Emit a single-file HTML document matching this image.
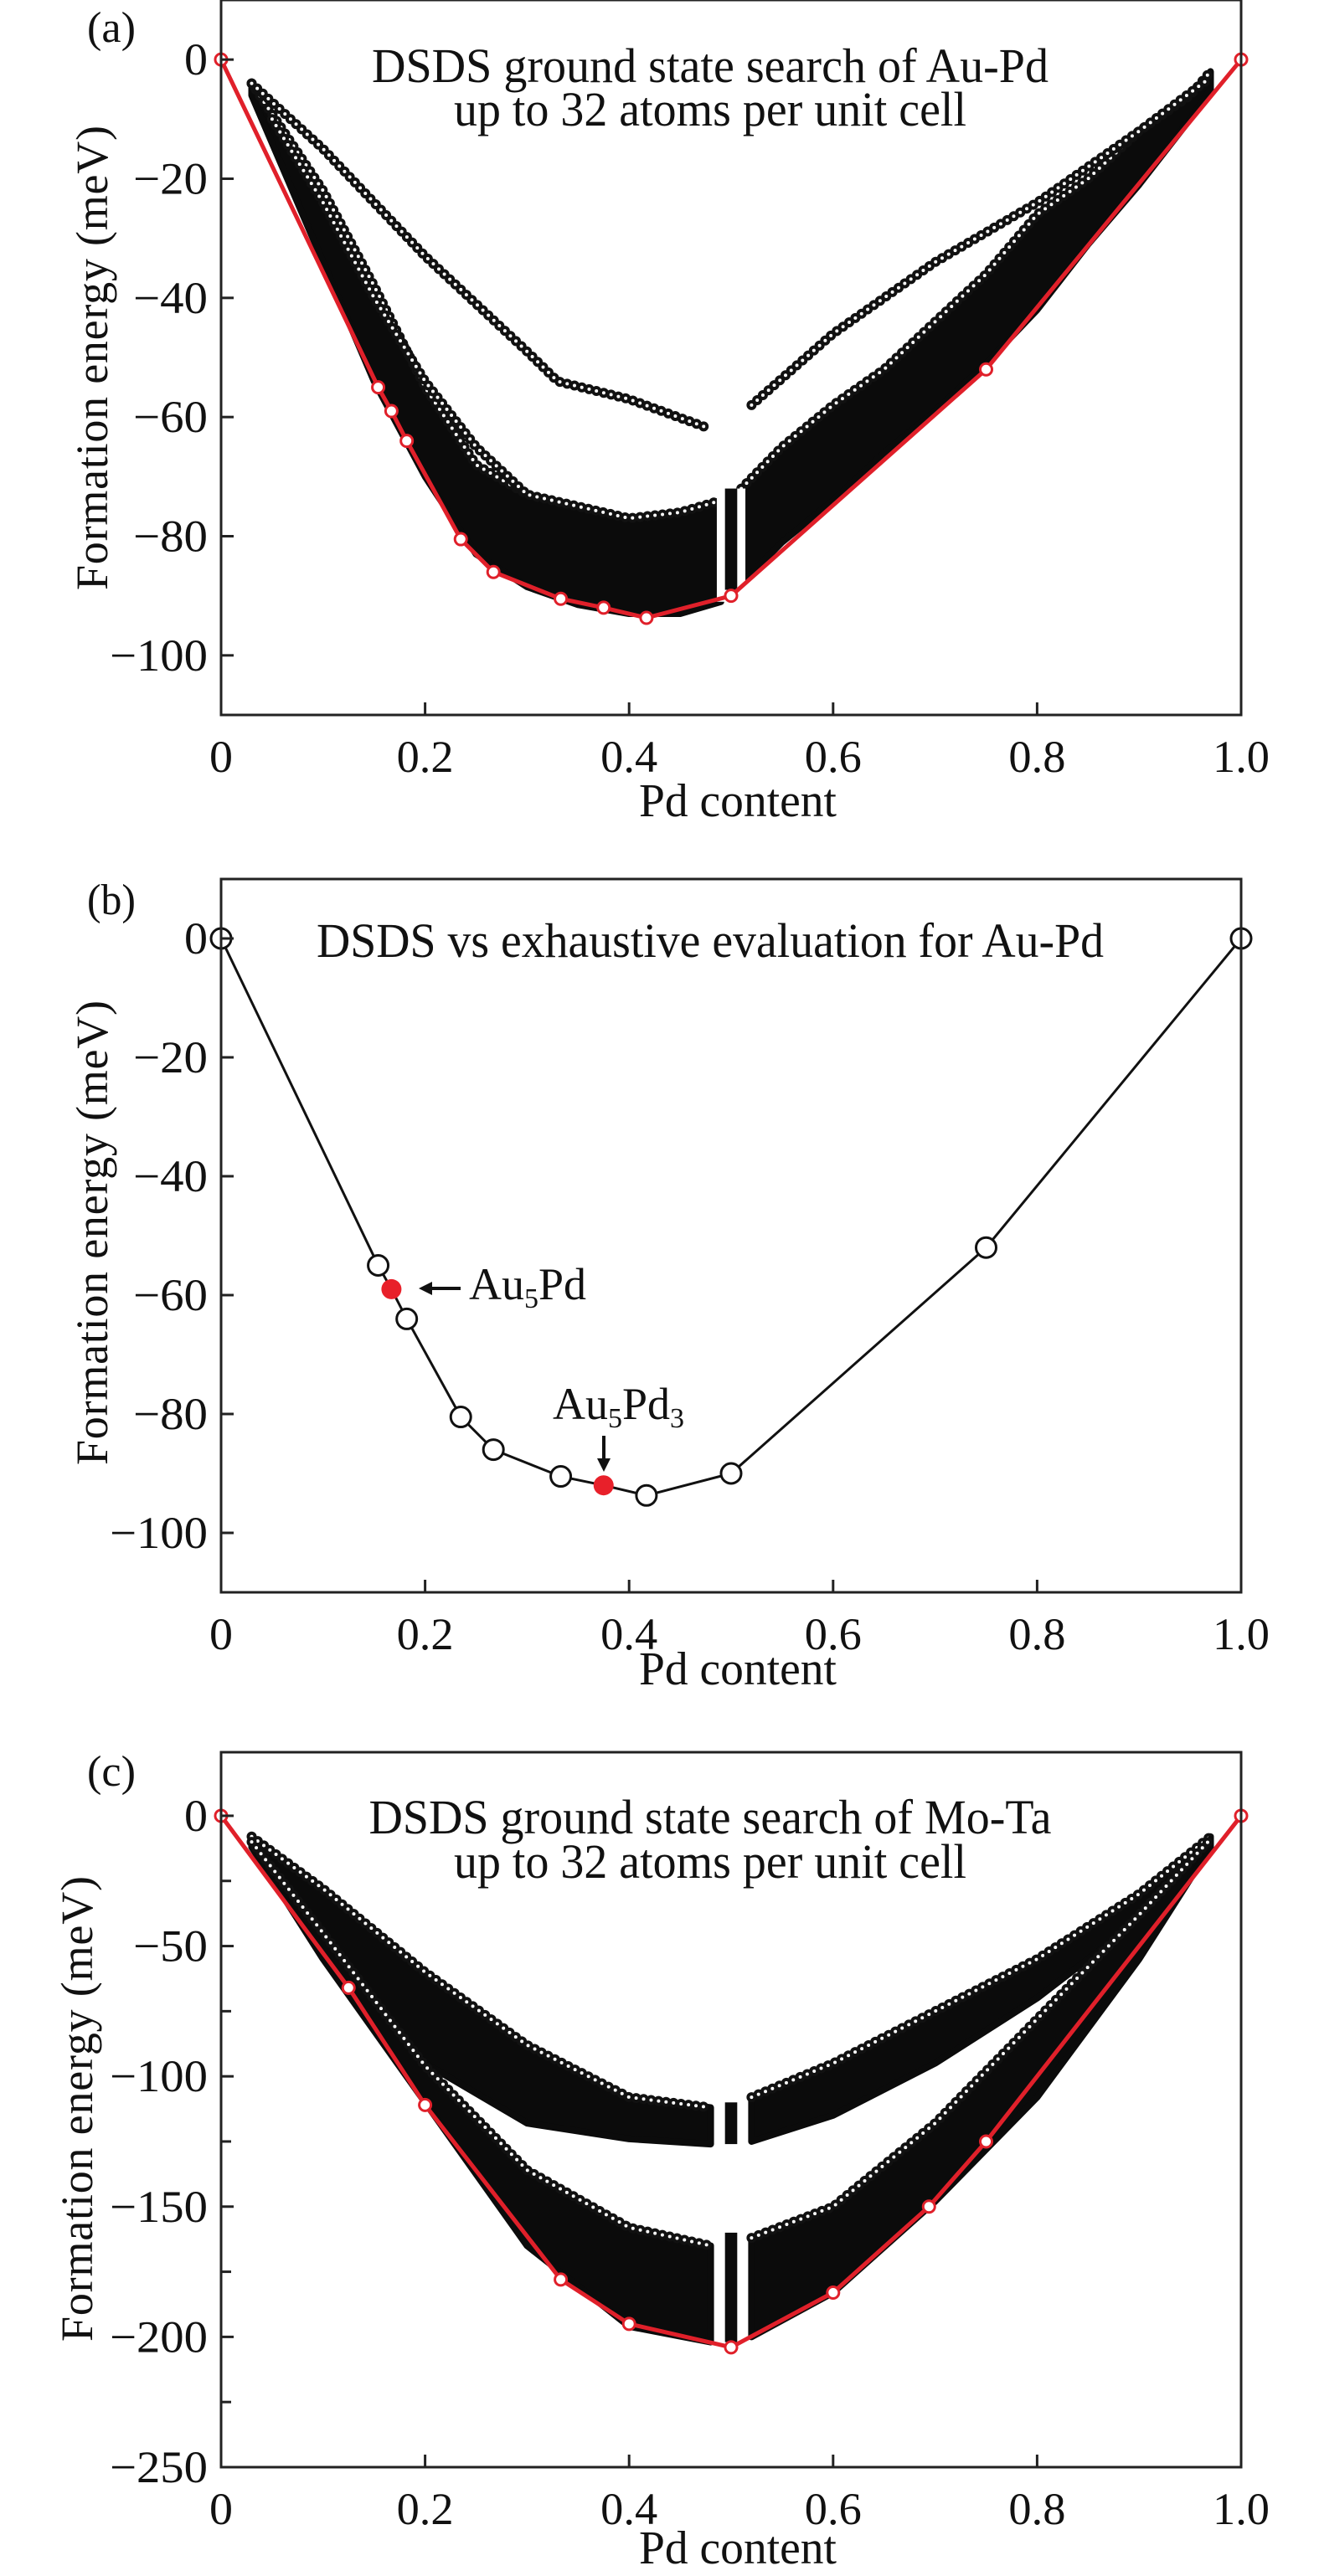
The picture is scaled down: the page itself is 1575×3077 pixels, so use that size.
<!DOCTYPE html>
<html><head><meta charset="utf-8"><style>
body{margin:0;background:#fff}
svg{display:block}
text{font-family:"Liberation Serif",serif;fill:#111}
</style></head><body>
<svg id="fig" xmlns="http://www.w3.org/2000/svg" width="1575" height="3077" viewBox="0 0 1575 3077"></svg>
<script>
// ---------- data arrays ----------
const xTicks = [0,0.2,0.4,0.6,0.8,1.0];
const xTickLabels = ["0","0.2","0.4","0.6","0.8","1.0"];
const aYTicks = [0,-20,-40,-60,-80,-100];
const cYTicks = [0,-50,-100,-150,-200,-250];
// Panel (a) Au-Pd hull
const aHullX = [0,0.154,0.167,0.182,0.235,0.267,0.333,0.375,0.417,0.5,0.75,1];
const aHullY = [0,-55,-59,-64,-80.5,-86,-90.5,-92,-93.7,-90,-52,0];
const aLeftX = [0.03,0.1,0.15,0.2,0.25,0.3,0.35,0.4,0.45,0.49];
const aLeftTop = [-4,-22,-38,-55,-68,-73,-75,-77,-76,-74];
const aLeftBot = [-6,-34,-54,-70,-83,-88.5,-91.5,-93,-93,-91];
const aRightX = [0.51,0.55,0.6,0.65,0.7,0.75,0.8,0.85,0.9,0.95,0.97];
const aRightTop = [-72,-65,-58,-52,-44,-36,-26,-20,-12,-6,-2];
const aRightBot = [-88,-81,-74,-66,-59,-51,-42,-31,-21,-10,-5];
const aUpLX = [0.03,0.1,0.2,0.3,0.33,0.4,0.48];
const aUpLY = [-4,-15,-33,-49,-54,-57,-62];
const aUpRX = [0.52,0.6,0.7,0.8,0.9,0.97];
const aUpRY = [-58,-46,-34,-24,-12,-3];
const aMidX = [0.05,0.1,0.15,0.2,0.25,0.3];
const aMidY = [-10,-24,-40,-54,-65,-73];
// Panel (b)
const bX = [0,0.154,0.182,0.235,0.267,0.333,0.417,0.5,0.75,1];
const bY = [0,-55,-64,-80.5,-86,-90.5,-93.7,-90,-52,0];
const bRedX = [0.167,0.375];
const bRedY = [-59,-92];
// Panel (c) Mo-Ta
const cHullX = [0,0.125,0.2,0.333,0.4,0.5,0.6,0.694,0.75,1];
const cHullY = [0,-66,-111,-178,-195,-204,-183,-150,-125,0];
const cUpLX = [0.03,0.1,0.2,0.3,0.4,0.48];
const cUpLTop = [-8,-28,-60,-88,-108,-112];
const cUpLBot = [-12,-50,-95,-118,-124,-126];
const cUpRX = [0.52,0.6,0.7,0.8,0.9,0.97];
const cUpRTop = [-108,-95,-75,-55,-30,-8];
const cUpRBot = [-125,-115,-95,-70,-40,-10];
const cLoLX = [0.03,0.1,0.2,0.3,0.4,0.48];
const cLoLTop = [-10,-45,-96,-136,-158,-165];
const cLoLBot = [-12,-55,-110,-165,-196,-202];
const cLoRX = [0.52,0.6,0.7,0.8,0.9,0.97];
const cLoRTop = [-162,-150,-118,-78,-38,-9];
const cLoRBot = [-200,-183,-148,-108,-55,-12];

// ---------- helpers ----------
const NS="http://www.w3.org/2000/svg";
const svg=document.getElementById('fig');
function mk(tag,attrs,parent){const e=document.createElementNS(NS,tag);for(const k in attrs)e.setAttribute(k,attrs[k]);(parent||svg).appendChild(e);return e;}
function axis(x0,x1,v0,v1,top,bot){
  return {sx:v=>x0+(x1-x0)*v, sy:v=>top+(v0-v)/(v0-v1)*(bot-top)};
}
function pts(ax,xs,ys){return xs.map((x,i)=>ax.sx(x).toFixed(1)+','+ax.sy(ys[i]).toFixed(1)).join(' ');}
function band(g,ax,xs,top,bot,name){
  const p=pts(ax,xs,top)+' '+pts(ax,xs.slice().reverse(),bot.slice().reverse());
  const e=mk('polygon',{points:p,fill:'#0b0b0b',stroke:'#0b0b0b','stroke-width':8,'stroke-linejoin':'round'},g);
  
  
  rings(g,ax,xs,top,name+'-edge');
}
function rings(g,ax,xs,ys,name){
  const p=pts(ax,xs,ys);
  const a=mk('polyline',{points:p,fill:'none',stroke:'#111','stroke-width':12,'stroke-dasharray':'0 9','stroke-linecap':'round'},g);
  
  
  mk('polyline',{points:p,fill:'none',stroke:'#fff','stroke-width':4,'stroke-dasharray':'0 9','stroke-linecap':'round'},g);
}
function tlen(s){let w=0;for(const ch of s){w+= ch==='\u2212'?33:(ch==='.'?12:28);}return w;}
function frame(g,ax,L,R,T,B,yt,minor,label,ty,xl){
  const fr=mk('rect',{x:L,y:T,width:R-L,height:B-T,fill:'none',stroke:'#222','stroke-width':3},g);
  
  
  xTicks.forEach((v,i)=>{
    const x=ax.sx(v);
    if(i>0&&i<xTicks.length-1) mk('line',{x1:x,y1:B,x2:x,y2:B-15,stroke:'#222','stroke-width':3},g);
    const s=xTickLabels[i];
    const t=mk('text',{x:x,y:B+68,'font-size':54,'text-anchor':'middle',textLength:tlen(s),lengthAdjust:'spacingAndGlyphs'},g);
    t.textContent=s;
    
    
  });
  yt.forEach((v,i)=>{
    const y=ax.sy(v);
    mk('line',{x1:L,y1:y,x2:L+15,y2:y,stroke:'#222','stroke-width':3},g);
    const s=(v<0?'\u2212':'')+Math.abs(v);
    const t=mk('text',{x:L-16,y:y+18,'font-size':54,'text-anchor':'end',textLength:tlen(s),lengthAdjust:'spacingAndGlyphs'},g);
    t.textContent=s;
    
    
    if(minor&&i<yt.length-1){const ym=ax.sy((v+yt[i+1])/2);mk('line',{x1:L,y1:ym,x2:L+12,y2:ym,stroke:'#222','stroke-width':3},g);}
  });
  const xlab=mk('text',{x:(L+R)/2+8,y:xl,'font-size':56,'text-anchor':'middle',textLength:236,lengthAdjust:'spacingAndGlyphs'},g);
  xlab.textContent='Pd content';
  
  
  const pl=mk('text',{x:104,y:T+ty,'font-size':52,textLength:58,lengthAdjust:'spacingAndGlyphs'},g);
  pl.textContent=label;
  
  
}
function ylabel(g,x,y1,y2){
  const t=mk('text',{x:0,y:0,'font-size':54,'text-anchor':'middle',textLength:(y2-y1),lengthAdjust:'spacing',transform:`translate(${x},${(y1+y2)/2}) rotate(-90)`},g);
  t.textContent='Formation energy (meV)';
  
  
}
function title(g,lines,cx,ys,lens){
  lines.forEach((s,i)=>{const t=mk('text',{x:cx,y:ys[i],'font-size':58,'text-anchor':'middle',textLength:lens[i],lengthAdjust:'spacingAndGlyphs'},g);t.textContent=s;});
}
function hull(g,ax,xs,ys,name){
  const l=mk('polyline',{points:pts(ax,xs,ys),fill:'none',stroke:'#e0202a','stroke-width':5,'stroke-linejoin':'round'},g);
  
  
  xs.forEach((x,i)=>{const c=mk('circle',{cx:ax.sx(x),cy:ax.sy(ys[i]),r:7,fill:'#fff',stroke:'#e0202a','stroke-width':3},g);});
}
const L=264,R=1482;

// ---------- Panel (a) ----------
{
const g=mk('g',{});
const T=0,B=854;
const ax=axis(L,R,10,-110,T,B);
band(g,ax,aLeftX,aLeftTop,aLeftBot,'cloud-left');
band(g,ax,aRightX,aRightTop,aRightBot,'cloud-right');
rings(g,ax,aUpLX,aUpLY,'upper-branch-left');
rings(g,ax,aUpRX,aUpRY,'upper-branch-right');
rings(g,ax,aMidX,aMidY,'middle-branch');
mk('rect',{x:ax.sx(0.486),y:ax.sy(-72),width:ax.sx(0.514)-ax.sx(0.486),height:ax.sy(-91)-ax.sy(-72),fill:'#fff'},g);
mk('rect',{x:ax.sx(0.494),y:ax.sy(-72),width:ax.sx(0.506)-ax.sx(0.494),height:ax.sy(-89)-ax.sy(-72),fill:'#0b0b0b'},g);
hull(g,ax,aHullX,aHullY,'hull-line-a');
frame(g,ax,L,R,T,B,aYTicks,false,'(a)',50,975);
ylabel(g,128,150,705);
title(g,['DSDS ground state search of Au-Pd','up to 32 atoms per unit cell'],848,[98,150],[808,612]);
}
// ---------- Panel (b) ----------
{
const g=mk('g',{});
const T=1050,B=1902;
const ax=axis(L,R,10,-110,T,B);
const allX=bX.concat(bRedX), allY=bY.concat(bRedY);
const ord=allX.map((x,i)=>i).sort((a,b)=>allX[a]-allX[b]);
const l=mk('polyline',{points:pts(ax,ord.map(i=>allX[i]),ord.map(i=>allY[i])),fill:'none',stroke:'#111','stroke-width':3},g);


bX.forEach((x,i)=>{const c=mk('circle',{cx:ax.sx(x),cy:ax.sy(bY[i]),r:12,fill:'#fff',stroke:'#111','stroke-width':3},g);});
bRedX.forEach((x,i)=>{const c=mk('circle',{cx:ax.sx(x),cy:ax.sy(bRedY[i]),r:12,fill:'#e8202a'},g);});
frame(g,ax,L,R,T,B,aYTicks,false,'(b)',42,2012);
ylabel(g,128,1195,1750);
title(g,['DSDS vs exhaustive evaluation for Au-Pd'],848,[1143],[940]);
const a1=mk('text',{x:560,y:1552,'font-size':54},g);
a1.innerHTML='Au<tspan font-size="34" dy="10">5</tspan><tspan dy="-10">Pd</tspan>';

mk('line',{x1:550,y1:1539,x2:512,y2:1539,stroke:'#111','stroke-width':4},g);
mk('polygon',{points:'500,1539 516,1531 516,1547',fill:'#111'},g);
const a2=mk('text',{x:660,y:1695,'font-size':54},g);
a2.innerHTML='Au<tspan font-size="34" dy="10">5</tspan><tspan dy="-10">Pd</tspan><tspan font-size="34" dy="10">3</tspan>';

mk('line',{x1:721,y1:1715,x2:721,y2:1746,stroke:'#111','stroke-width':4},g);
mk('polygon',{points:'721,1758 713,1742 729,1742',fill:'#111'},g);
}
// ---------- Panel (c) ----------
{
const g=mk('g',{});
const T=2093,B=2947;
const ax=axis(L,R,24.4,-250,T,B);
band(g,ax,cUpLX,cUpLTop,cUpLBot,'cloud-upper-left');
band(g,ax,cUpRX,cUpRTop,cUpRBot,'cloud-upper-right');
band(g,ax,cLoLX,cLoLTop,cLoLBot,'cloud-lower-left');
band(g,ax,cLoRX,cLoRTop,cLoRBot,'cloud-lower-right');
mk('rect',{x:ax.sx(0.486),y:ax.sy(-108),width:ax.sx(0.514)-ax.sx(0.486),height:ax.sy(-205)-ax.sy(-108),fill:'#fff'},g);
mk('rect',{x:ax.sx(0.494),y:ax.sy(-110),width:ax.sx(0.506)-ax.sx(0.494),height:ax.sy(-126)-ax.sy(-110),fill:'#0b0b0b'},g);
mk('rect',{x:ax.sx(0.494),y:ax.sy(-160),width:ax.sx(0.506)-ax.sx(0.494),height:ax.sy(-202)-ax.sy(-160),fill:'#0b0b0b'},g);
hull(g,ax,cHullX,cHullY,'hull-line-c');
frame(g,ax,L,R,T,B,cYTicks,true,'(c)',40,3062);
ylabel(g,110,2241,2797);
title(g,['DSDS ground state search of Mo-Ta','up to 32 atoms per unit cell'],848,[2190,2243],[815,612]);
}
</script>
</body></html>
